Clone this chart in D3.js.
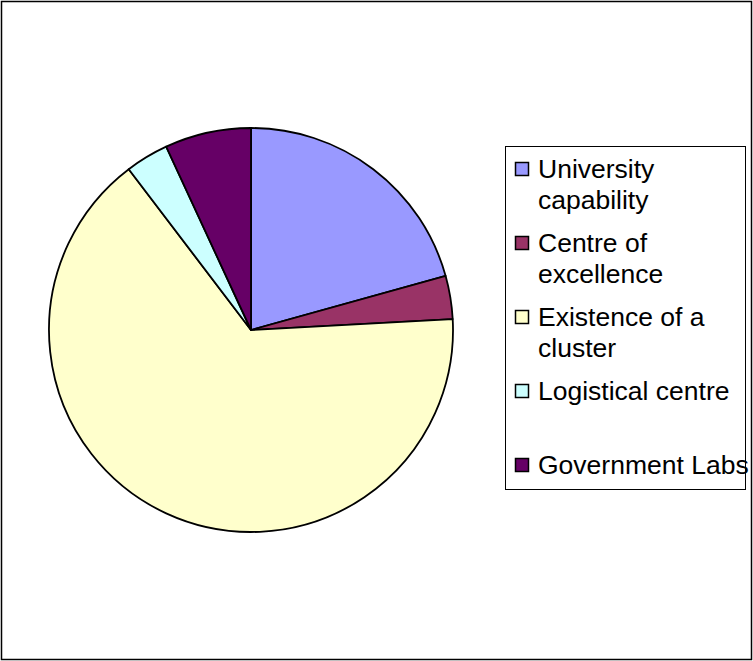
<!DOCTYPE html>
<html>
<head>
<meta charset="utf-8">
<script src="https://cdn.jsdelivr.net/npm/d3@7"></script>
<style>
  html, body { margin: 0; padding: 0; background: #fff; }
  svg { display: block; font-family: "Liberation Sans", Arial, sans-serif; }
</style>
</head>
<body>
<div id="chart"></div>
<script>
// data
const categories = ['University capability', 'Centre of excellence', 'Existence of a cluster', 'Logistical centre', 'Government Labs'];
const values = [6, 1, 19, 1, 2];
const colors = ['#9999FF', '#993366', '#FFFFCC', '#CCFFFF', '#660066'];
// legend text as it wraps in the original
const labelLines = [['University', 'capability'], ['Centre of', 'excellence'], ['Existence of a', 'cluster'], ['Logistical centre'], ['Government Labs']];

const W = 753, H = 661;
const cx = 251, cy = 330, r = 202;

const svg = d3.select('#chart').append('svg')
  .attr('width', W).attr('height', H);

// outer frame
svg.append('rect')
  .attr('x', 1.5).attr('y', 1.5)
  .attr('width', W - 3).attr('height', H - 3)
  .attr('fill', 'none').attr('stroke', '#000').attr('stroke-width', 1.5);

const color = d3.scaleOrdinal().domain(categories).range(colors);

const pie = d3.pie().sort(null).value(d => d.v);
const arc = d3.arc().innerRadius(0).outerRadius(r);
const rows = categories.map((c, i) => ({ c, v: values[i], lines: labelLines[i] }));

svg.append('g')
  .attr('transform', `translate(${cx},${cy})`)
  .selectAll('path')
  .data(pie(rows))
  .join('path')
    .attr('d', arc)
    .attr('fill', d => color(d.data.c))
    .attr('stroke', '#000')
    .attr('stroke-width', 1.8)
    .attr('stroke-linejoin', 'round');

// legend
const lg = svg.append('g');
lg.append('rect')
  .attr('x', 505.5).attr('y', 146.5)
  .attr('width', 240).attr('height', 343)
  .attr('fill', '#fff').attr('stroke', '#000').attr('stroke-width', 1);

const ly = d3.scalePoint().domain(categories).range([169, 465]);

const item = lg.selectAll('g.item')
  .data(rows)
  .join('g').attr('class', 'item')
  .attr('transform', d => `translate(0,${ly(d.c)})`);

item.append('rect')
  .attr('x', 515.5).attr('y', -6.5)
  .attr('width', 13).attr('height', 13)
  .attr('fill', d => color(d.c))
  .attr('stroke', '#000').attr('stroke-width', 1.5);

item.append('text')
  .attr('x', 538).attr('y', 9)
  .attr('font-size', 26.5)
  .attr('fill', '#000')
  .selectAll('tspan')
  .data(d => d.lines)
  .join('tspan')
    .attr('x', 538)
    .attr('dy', (d, i) => i === 0 ? 0 : 31)
    .text(d => d);
</script>
</body>
</html>
